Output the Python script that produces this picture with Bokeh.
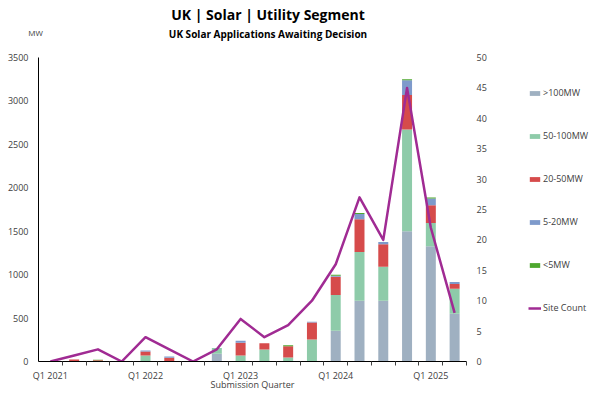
from bokeh.plotting import figure
from bokeh.layouts import row
from bokeh.models import (ColumnDataSource, Range1d, LinearAxis, FixedTicker,
                          Legend, LegendItem, Label)
from bokeh.embed import file_html
from bokeh.resources import INLINE

quarters = ["Q1 2021", "Q2 2021", "Q3 2021", "Q4 2021",
            "Q1 2022", "Q2 2022", "Q3 2022", "Q4 2022",
            "Q1 2023", "Q2 2023", "Q3 2023", "Q4 2023",
            "Q1 2024", "Q2 2024", "Q3 2024", "Q4 2024",
            "Q1 2025", "Q2 2025"]
mw_gt100 = [0, 0, 0, 0, 0, 0, 0, 90, 0, 0, 0, 0, 355, 700, 700, 1500, 1327, 549]
mw_50_100 = [0, 0, 0, 0, 70, 0, 0, 65, 69, 137, 46, 252, 412, 560, 390, 1170, 267, 290]
mw_20_50 = [0, 23, 15, 0, 45, 42, 0, 0, 148, 73, 129, 198, 209, 378, 260, 397, 206, 53]
mw_5_20 = [0, 0, 0, 0, 12, 15, 0, 0, 23, 0, 0, 8, 10, 60, 27, 172, 76, 23]
mw_lt5 = [0, 0, 5, 0, 0, 0, 0, 0, 0, 0, 12, 0, 12, 12, 0, 11, 12, 0]
site_count = [0, 1, 2, 0, 4, 2, 0, 2, 7, 4, 6, 10, 16, 27, 20, 45, 22, 8]

series = [">100MW", "50-100MW", "20-50MW", "5-20MW", "<5MW"]
colors = ["#9FB0C1", "#8ECBA9", "#D64B4B", "#7E9ACB", "#4EA72E"]
line_color = "#A02B93"
FONT = "Open Sans"
TXT = "#404040"
stack_cols = ["s0", "s1", "s2", "s3", "s4"]

xs = list(range(len(quarters)))
src = ColumnDataSource(dict(x=xs, s0=mw_gt100, s1=mw_50_100, s2=mw_20_50,
                            s3=mw_5_20, s4=mw_lt5, sites=site_count))

# ---------------- main chart ----------------
p = figure(width=500, height=393, output_backend="svg", toolbar_location=None,
           title=None,
           x_range=Range1d(-0.5, 17.5), y_range=Range1d(0, 3500),
           min_border_left=38, min_border_right=34, min_border_top=57,
           min_border_bottom=30)
p.outline_line_color = None
p.grid.visible = False

p.vbar_stack(stack_cols, x="x", width=0.42,
             color=colors, source=src, line_color=None)

p.extra_y_ranges = {"sites": Range1d(0, 50)}
p.line("x", "sites", source=src, y_range_name="sites",
       color=line_color, line_width=2.5, line_join="round")

# x axis
xax = p.xaxis[0]
xax.ticker = FixedTicker(ticks=[0, 4, 8, 12, 16],
                         minor_ticks=[i + 0.5 for i in range(18)])
xax.major_label_overrides = {i: quarters[i] for i in [0, 4, 8, 12, 16]}
xax.major_tick_line_color = None
xax.major_tick_out = 0
xax.major_tick_in = 0
xax.minor_tick_in = 0
xax.minor_tick_out = 4
xax.minor_tick_line_color = "#404040"
xax.axis_line_color = "black"
xax.major_label_standoff = 3
xax.major_label_text_font = FONT
xax.major_label_text_font_size = "9px"
xax.major_label_text_color = TXT
xax.axis_label = "Submission Quarter"
xax.axis_label_standoff = -7
xax.axis_label_text_font = FONT
xax.axis_label_text_font_size = "9px"
xax.axis_label_text_font_style = "normal"
xax.axis_label_text_color = TXT

# left axis
yax = p.yaxis[0]
yax.ticker = FixedTicker(ticks=list(range(0, 3501, 500)))
yax.major_tick_line_color = None
yax.minor_tick_line_color = None
yax.major_tick_out = 0
yax.major_tick_in = 0
yax.axis_line_color = "black"
yax.major_label_standoff = 10
yax.major_label_text_font = FONT
yax.major_label_text_font_size = "9px"
yax.major_label_text_color = TXT

# right axis
rax = LinearAxis(y_range_name="sites",
                 ticker=FixedTicker(ticks=list(range(0, 51, 5))))
rax.axis_line_color = None
rax.major_tick_line_color = None
rax.minor_tick_line_color = None
rax.major_tick_out = 0
rax.major_tick_in = 0
rax.major_label_standoff = 10
rax.major_label_text_font = FONT
rax.major_label_text_font_size = "9px"
rax.major_label_text_color = TXT
p.add_layout(rax, "right")

# titles / unit label in the top border (first added sits closest to frame)
title = Label(x=229.5, y=43.5, x_units="screen", y_units="screen",
              text="UK | Solar | Utility Segment", text_align="center",
              text_baseline="middle", text_font=FONT, text_font_size="14px",
              text_font_style="bold", text_color="black")
subtitle = Label(x=229.5, y=4.9, x_units="screen", y_units="screen",
                 text="UK Solar Applications Awaiting Decision",
                 text_align="center", text_baseline="middle", text_font=FONT,
                 text_font_size="10px", text_font_style="bold",
                 text_color="black")
mw = Label(x=-3, y=-7.5, x_units="screen", y_units="screen", text="MW",
           text_align="center", text_baseline="middle", text_font=FONT,
           text_font_size="8px", text_color=TXT)
for lab in (title, subtitle, mw):
    p.add_layout(lab, "above")

# ---------------- legend panel ----------------
# same data drawn again, but this panel's ranges (negative) show none of it:
# the renderers exist only to give the legend its swatches
lg = figure(width=90, height=393, output_backend="svg", toolbar_location=None,
            title=None, x_range=Range1d(-300, -200), y_range=Range1d(-300, -200),
            x_axis_location=None, y_axis_location=None,
            min_border_left=0, min_border_right=0, min_border_top=0,
            min_border_bottom=0)
lg.outline_line_color = None
lg.grid.visible = False
swatches = [lg.vbar(x="x", top=col, width=0.42, color=c, line_color=None,
                    source=src)
            for col, c in zip(stack_cols, colors)]
line_sw = lg.line("x", "sites", source=src, color=line_color, line_width=2.5)

items = [LegendItem(label=series[i], renderers=[swatches[i]]) for i in range(5)]
items.append(LegendItem(label="Site Count", renderers=[line_sw]))
legend = Legend(items=items, location=(28, 47), orientation="vertical",
                glyph_width=13, glyph_height=6, label_height=13,
                label_standoff=2, spacing=30, padding=0, margin=0,
                border_line_color=None, background_fill_alpha=0,
                label_text_font=FONT, label_text_font_size="9px",
                label_text_color=TXT)
lg.add_layout(legend, "center")

layout = row(p, lg, spacing=0)
open("out.html", "w").write(file_html(layout, INLINE))
